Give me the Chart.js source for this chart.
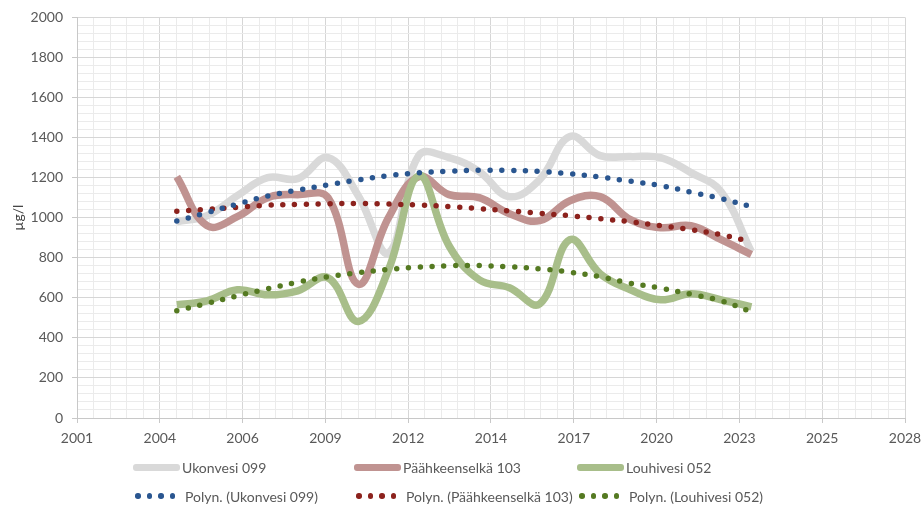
<!DOCTYPE html>
<html>
<head>
<meta charset="utf-8">
<script src="https://cdn.jsdelivr.net/npm/chart.js@4.4.0/dist/chart.umd.min.js"></script>
<style>
  html, body { margin: 0; padding: 0; background: #fff; }
  #wrap { position: relative; width: 924px; height: 515px; }
  #legend { position: absolute; left: 0; top: 0; font-family: Lato, sans-serif; font-size: 14px; color: #595959; }
  .item { position: absolute; display: flex; align-items: center; height: 18px; white-space: nowrap; }
  .solid { width: 47px; height: 7px; border-radius: 3px; margin-right: 2px; }
  .dots { width: 50px; height: 6px; display: flex; gap: 6px; align-items: center; }
  .dots span { width: 5.5px; height: 5.5px; border-radius: 50%; }
</style>
</head>
<body>
<div id="wrap">
  <canvas id="chart" width="924" height="515"></canvas>
  <div id="legend"></div>
</div>
<script>
// mittausvuodet
const years = [2004.3, 2005.3, 2006.3, 2007.3, 2008.3, 2009.3, 2010.3, 2011.3, 2012.3, 2013.3,
  2014.3, 2015.3, 2016.3, 2017.3, 2018.3, 2019.3, 2020.3, 2021.3, 2022.3, 2023.3];

const ukonvesi = [980, 1010, 1110, 1200, 1195, 1300, 1110, 825, 1310, 1300,
  1230, 1105, 1190, 1405, 1310, 1305, 1300, 1225, 1130, 830];
const paahkeenselka = [1204, 960, 1005, 1100, 1115, 1100, 668, 1000, 1204, 1115,
  1100, 1020, 985, 1085, 1105, 990, 950, 960, 890, 816];
const louhivesi = [565, 585, 640, 615, 635, 700, 482, 740, 1210, 860,
  690, 650, 570, 890, 720, 640, 590, 620, 590, 555];

// trendiviivat (polynomi), luettu kuvasta
const trendUkonvesi = [983, 1025, 1068, 1108, 1138, 1164, 1189, 1210, 1224, 1232,
  1237, 1236, 1231, 1219, 1203, 1182, 1160, 1128, 1095, 1055];
const trendPaahkeenselka = [1032, 1042, 1052, 1062, 1066, 1070, 1071, 1068, 1063, 1056,
  1045, 1034, 1022, 1010, 995, 980, 960, 940, 915, 880];
const trendLouhivesi = [536, 572, 610, 645, 678, 705, 725, 742, 753, 760,
  761, 755, 745, 728, 705, 673, 648, 618, 585, 530];

const seriesNames = ["Ukonvesi 099", "Päähkeenselkä 103", "Louhivesi 052"];
const trendNames = ["Polyn. (Ukonvesi 099)", "Polyn. (Päähkeenselkä 103)", "Polyn. (Louhivesi 052)"];
const tickLabels = ["2001", "2004", "2006", "2009", "2012", "2014", "2017", "2020", "2023", "2025", "2028"];

const lineColors = ["#d9d9d9", "#c09391", "#a8be8a"];
const dotColors = ["#2a5690", "#8c221d", "#557a22"];

const xMin = 2001;
const xStep = 1000 / 365.25; // paaviivat 1000 paivan valein
const xMax = xMin + xStep * 10;

const FONT = "Lato, sans-serif";
const MAJOR = "#d6d6d6";
const MINOR = "#ebebeb";

function pts(vals) {
  return vals.map(function (v, i) { return { x: years[i], y: v }; });
}

const mainData = [ukonvesi, paahkeenselka, louhivesi];
const trendData = [trendUkonvesi, trendPaahkeenselka, trendLouhivesi];

var datasets = [];
for (var i = 0; i < 3; i++) {
  datasets.push({
    label: seriesNames[i],
    data: pts(mainData[i]),
    borderColor: lineColors[i],
    borderWidth: 7.5,
    tension: 0.4,
    pointRadius: 0,
    order: 3 - i + 1,
  });
}
for (var j = 0; j < 3; j++) {
  datasets.push({
    label: trendNames[j],
    data: pts(trendData[j]),
    borderColor: dotColors[j],
    borderWidth: 5.5,
    borderDash: [0, 11.8],
    borderCapStyle: "round",
    tension: 0.4,
    pointRadius: 0,
    order: 0,
  });
}

new Chart(document.getElementById("chart"), {
  type: "line",
  data: { datasets: datasets },
  options: {
    responsive: false,
    animation: false,
    layout: { padding: { left: 0, top: 11, right: 19, bottom: 67 } },
    plugins: { legend: { display: false }, tooltip: { enabled: false } },
    scales: {
      x: {
        type: "linear",
        min: xMin,
        max: xMax,
        afterBuildTicks: function (scale) {
          var t = [];
          for (var k = 0; k <= 50; k++) t.push({ value: xMin + (k * xStep) / 5 });
          scale.ticks = t;
        },
        afterFit: function (scale) {
          scale.height = 30;
          scale.paddingRight = 0;
          scale.paddingLeft = 0;
        },
        ticks: {
          autoSkip: false,
          maxRotation: 0,
          padding: 7,
          color: "#595959",
          font: { family: FONT, size: 14 },
          callback: function (v, idx) { return idx % 5 === 0 ? tickLabels[idx / 5] : ""; },
        },
        grid: {
          color: function (ctx) { return ctx.index % 5 === 0 ? MAJOR : MINOR; },
          tickColor: function (ctx) { return ctx.index % 5 === 0 ? "#c8c8c8" : "rgba(0,0,0,0)"; },
          tickLength: 5,
        },
        border: { color: "#c8c8c8" },
      },
      y: {
        min: 0,
        max: 2000,
        afterBuildTicks: function (scale) {
          var t = [];
          for (var k = 0; k <= 50; k++) t.push({ value: k * 40 });
          scale.ticks = t;
        },
        afterFit: function (scale) { scale.width = 77; },
        ticks: {
          autoSkip: false,
          padding: 9,
          color: "#595959",
          font: { family: FONT, size: 14 },
          callback: function (v) { return v % 200 === 0 ? String(v) : ""; },
        },
        grid: {
          color: function (ctx) { return ctx.tick && ctx.tick.value % 200 === 0 ? MAJOR : MINOR; },
          tickColor: function (ctx) { return ctx.tick && ctx.tick.value % 200 === 0 ? "#c8c8c8" : "rgba(0,0,0,0)"; },
          tickLength: 5,
        },
        border: { color: "#c8c8c8" },
        title: {
          display: true,
          text: "µg/l",
          color: "#404040",
          font: { family: FONT, size: 14 },
          padding: { top: 10, bottom: 0 },
        },
      },
    },
  },
});

// oma selite kahteen riviin
var legend = document.getElementById("legend");
var colLeft = [133, 354, 577];
var rowTop = [458, 487];
for (var c = 0; c < 3; c++) {
  var a = document.createElement("div");
  a.className = "item";
  a.style.left = colLeft[c] + "px";
  a.style.top = rowTop[0] + "px";
  a.innerHTML = '<div class="solid" style="background:' + lineColors[c] + '"></div><span>' + seriesNames[c] + "</span>";
  legend.appendChild(a);

  var b = document.createElement("div");
  b.className = "item";
  b.style.left = colLeft[c] + 2 + "px";
  b.style.top = rowTop[1] + "px";
  var d = "";
  for (var n = 0; n < 4; n++) d += '<span style="background:' + dotColors[c] + '"></span>';
  b.innerHTML = '<div class="dots">' + d + "</div><span>" + trendNames[c] + "</span>";
  legend.appendChild(b);
}
</script>
</body>
</html>
